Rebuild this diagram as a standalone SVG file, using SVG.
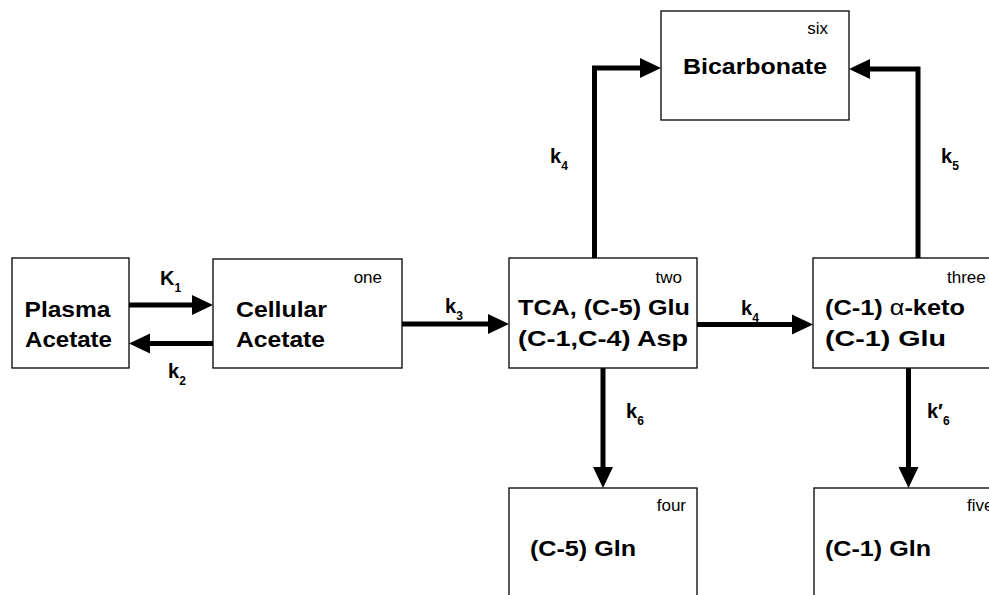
<svg xmlns="http://www.w3.org/2000/svg" width="989" height="595" viewBox="0 0 989 595">
<style>
.box{fill:#fff;stroke:#000;stroke-width:1.3}
.main{font-family:"Liberation Sans",Arial,sans-serif;font-weight:bold;font-size:22px;fill:#000}
.tag{font-family:"Liberation Sans",Arial,sans-serif;font-size:17px;fill:#000}
.k{font-family:"Liberation Sans",Arial,sans-serif;font-weight:bold;font-size:20px;fill:#000}
.sub{font-size:12px}
.conn{fill:none;stroke:#000;stroke-width:5;stroke-linejoin:miter;stroke-linecap:butt}
</style>
<defs>
<marker id="ah" markerUnits="userSpaceOnUse" markerWidth="21" markerHeight="20" refX="6" refY="10" orient="auto" overflow="visible">
<path d="M0,0 L21,10 L0,20 z" fill="#000"/>
</marker>
</defs>
<rect width="989" height="595" fill="#fff"/>
<g id="connectors">
<path class="conn" marker-end="url(#ah)" d="M129,305 H198"/>
<path class="conn" marker-end="url(#ah)" d="M213,343.5 H144"/>
<path class="conn" marker-end="url(#ah)" d="M402,324 H494"/>
<path class="conn" marker-end="url(#ah)" d="M697,324.5 H798"/>
<path class="conn" marker-end="url(#ah)" d="M594.5,258 V68 H646"/>
<path class="conn" marker-end="url(#ah)" d="M918,258 V69 H864"/>
<path class="conn" marker-end="url(#ah)" d="M603,368 V473"/>
<path class="conn" marker-end="url(#ah)" d="M908.5,368 V473"/>
<text class="k" x="160" y="285">K<tspan class="sub" dy="7">1</tspan></text>
<text class="k" x="168" y="378">k<tspan class="sub" dy="7">2</tspan></text>
<text class="k" x="445" y="313">k<tspan class="sub" dy="7">3</tspan></text>
<text class="k" x="741" y="315">k<tspan class="sub" dy="7">4</tspan></text>
<text class="k" x="550" y="163">k<tspan class="sub" dy="7">4</tspan></text>
<text class="k" x="941" y="163">k<tspan class="sub" dy="7">5</tspan></text>
<text class="k" x="626" y="418">k<tspan class="sub" dy="7">6</tspan></text>
<text class="k" x="927" y="418">k′<tspan class="sub" dy="7">6</tspan></text>
</g>
<g id="plasma">
<rect class="box" x="12" y="258" width="117" height="110"/>
<text class="main" x="24.5" y="317" textLength="86" lengthAdjust="spacingAndGlyphs">Plasma</text>
<text class="main" x="25" y="347" textLength="87" lengthAdjust="spacingAndGlyphs">Acetate</text>
</g>
<g id="one">
<rect class="box" x="213" y="259" width="189" height="109"/>
<text class="tag" x="382" y="283" text-anchor="end">one</text>
<text class="main" x="236" y="317" textLength="91" lengthAdjust="spacingAndGlyphs">Cellular</text>
<text class="main" x="236" y="347" textLength="89" lengthAdjust="spacingAndGlyphs">Acetate</text>
</g>
<g id="two">
<rect class="box" x="509" y="258" width="188" height="110"/>
<text class="tag" x="682" y="283" text-anchor="end">two</text>
<text class="main" x="518" y="315" textLength="172" lengthAdjust="spacingAndGlyphs">TCA, (C-5) Glu</text>
<text class="main" x="518" y="346" textLength="170" lengthAdjust="spacingAndGlyphs">(C-1,C-4) Asp</text>
</g>
<g id="three">
<rect class="box" x="813" y="258" width="200" height="110"/>
<text class="tag" x="947" y="283">three</text>
<text class="main" x="825" y="315" textLength="140" lengthAdjust="spacingAndGlyphs">(C-1) <tspan font-weight="normal">α</tspan>-keto</text>
<text class="main" x="825" y="346" textLength="121" lengthAdjust="spacingAndGlyphs">(C-1) Glu</text>
</g>
<g id="six">
<rect class="box" x="661" y="11" width="188" height="109"/>
<text class="tag" x="828" y="34" text-anchor="end">six</text>
<text class="main" x="683" y="74" textLength="144" lengthAdjust="spacingAndGlyphs">Bicarbonate</text>
</g>
<g id="four">
<rect class="box" x="509" y="488" width="188" height="130"/>
<text class="tag" x="686" y="511" text-anchor="end">four</text>
<text class="main" x="530" y="556" textLength="106" lengthAdjust="spacingAndGlyphs">(C-5) Gln</text>
</g>
<g id="five">
<rect class="box" x="814" y="488" width="200" height="130"/>
<text class="tag" x="967" y="511">five</text>
<text class="main" x="825" y="556" textLength="106" lengthAdjust="spacingAndGlyphs">(C-1) Gln</text>
</g>
</svg>
